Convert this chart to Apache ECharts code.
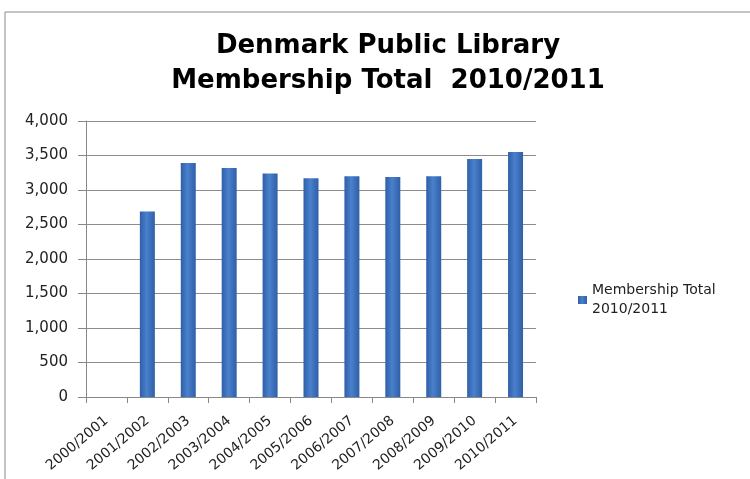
<!DOCTYPE html>
<html><head><meta charset="utf-8">
<script src="https://cdn.jsdelivr.net/npm/echarts@6/dist/echarts.min.js"></script>
<style>html,body{margin:0;padding:0;background:#fff}#c{width:750px;height:479px}</style>
</head><body><div id="c"></div>
<script>
const categories = ['2000/2001','2001/2002','2002/2003','2003/2004','2004/2005','2005/2006','2006/2007','2007/2008','2008/2009','2009/2010','2010/2011'];
const membership = [0, 2690, 3390, 3320, 3240, 3170, 3200, 3190, 3200, 3450, 3550];
const seriesName = 'Membership Total 2010/2011';
const titleLines = ['Denmark Public Library', 'Membership Total  2010/2011'];

const chart = echarts.init(document.getElementById('c'));
chart.setOption({
  backgroundColor: '#fff',
  animation: false,
  graphic: [{type:'rect', shape:{x:5, y:12, width:760, height:480}, style:{fill:'none', stroke:'#8a8a8a', lineWidth:1}, silent:true}],
  title: {
    text: titleLines.join('\n'), left: 383, top: 24, textAlign: 'center',
    textStyle: {fontFamily: 'DejaVu Sans', fontWeight: 'bold', fontSize: 26, lineHeight: 35, color: '#000'}
  },
  legend: {
    data: [seriesName], left: 573, top: 276, orient: 'vertical',
    itemWidth: 9, itemHeight: 8, icon: 'rect', itemGap: 4,
    formatter: n => n.replace(' 2010', '\n2010'),
    textStyle: {fontFamily: 'DejaVu Sans', fontSize: 14, color: '#222', lineHeight: 19}
  },
  grid: {left: 86, right: 214, top: 121, bottom: 82},
  xAxis: {
    type: 'category', data: categories,
    axisLine: {lineStyle: {color: '#888'}},
    axisTick: {show: true, lineStyle: {color: '#888'}, length: 6},
    axisLabel: {rotate: 40, fontFamily: 'DejaVu Sans', fontSize: 14, color: '#222', margin: 22}
  },
  yAxis: {
    type: 'value', min: 0, max: 4000, interval: 500,
    axisLine: {show: true, lineStyle: {color: '#888'}},
    axisTick: {show: true, length: 8, lineStyle: {color: '#888'}},
    axisLabel: {fontFamily: 'DejaVu Sans', fontSize: 15, color: '#222', margin: 18,
      formatter: v => v.toLocaleString('en-US')},
    splitLine: {lineStyle: {color: '#8c8c8c'}}
  },
  series: [{
    name: seriesName, type: 'bar', data: membership, barWidth: 15,
    itemStyle: {color: new echarts.graphic.LinearGradient(0,0,1,0,[
      {offset:0, color:'#2f5fa8'},{offset:0.45, color:'#4a80cc'},{offset:1, color:'#2f5fa8'}])}
  }]
});
</script></body></html>
